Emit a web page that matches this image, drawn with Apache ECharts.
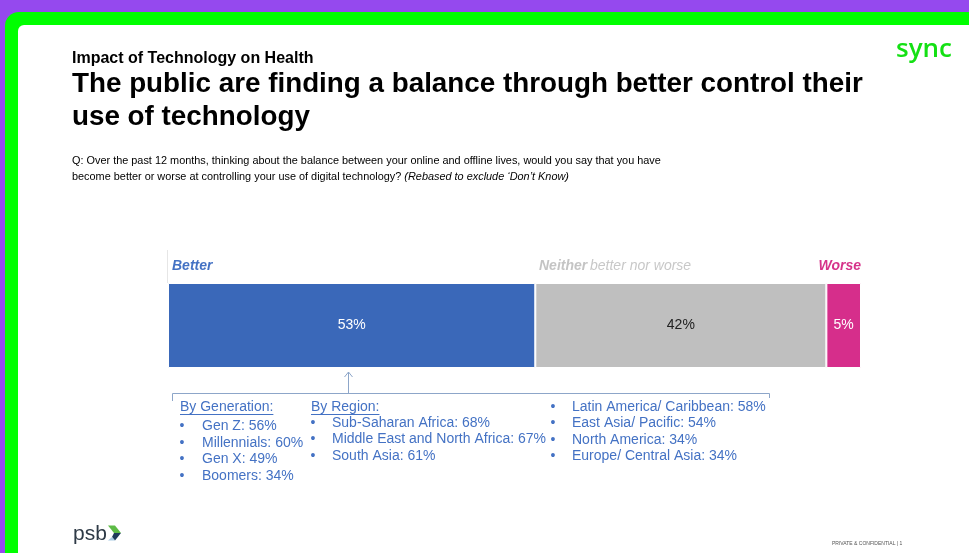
<!DOCTYPE html>
<html>
<head>
<meta charset="utf-8">
<script src="https://cdn.jsdelivr.net/npm/echarts@6/dist/echarts.min.js"></script>
<style>
  html, body { margin: 0; padding: 0; background: #9549EE; }
  #main { width: 969px; height: 553px; }
</style>
</head>
<body>
<div id="main"></div>
<script>
// Survey result: share of the public that became better / neither / worse at controlling tech use
const categories = ['Global public'];
const seriesNames = ['Better', 'Neither', 'Worse'];
const betterValues = [53];
const neitherValues = [42];
const worseValues = [5];

// "Better" share broken down by generation and by region
const generationNames = ['Gen Z', 'Millennials', 'Gen X', 'Boomers'];
const generationValues = [56, 60, 49, 34];
const regionNames = ['Sub-Saharan Africa', 'Middle East and North Africa', 'South Asia',
  'Latin America/ Caribbean', 'East Asia/ Pacific', 'North America', 'Europe/ Central Asia'];
const regionValues = [68, 67, 61, 58, 54, 34, 34];

const FONT = '"Liberation Sans", Arial, sans-serif';
const BLUE_TEXT = '#4472C4';

const measureCtx = document.createElement('canvas').getContext('2d');
function textWidth(font, s) { measureCtx.font = font; return measureCtx.measureText(s).width; }

function label(x, y, text, font, fill, align, extra) {
  return Object.assign({
    type: 'text', x: x, y: y, z: 20,
    style: { x: 0, y: 0, text: text, font: font, fill: fill,
             textAlign: align || 'left', textVerticalAlign: 'middle' }
  }, extra || {});
}

const elements = [];

// frame: green rounded border on purple, white page inside
elements.push({ type: 'rect', z: 0, shape: { x: 5, y: 12, width: 1000, height: 600, r: 14 }, style: { fill: '#00FF00' } });
elements.push({ type: 'rect', z: 1, shape: { x: 18, y: 25, width: 1000, height: 600, r: 6 }, style: { fill: '#FFFFFF' } });

// headings
elements.push(label(72, 59, 'Impact of Technology on Health', 'bold 16px ' + FONT, '#000'));
elements.push(label(72, 84, 'The public are finding a balance through better control their', 'bold 27.8px ' + FONT, '#000'));
elements.push(label(72, 117, 'use of technology', 'bold 27.8px ' + FONT, '#000'));

// question text
const qFont = '11px ' + FONT;
const qItalic = 'italic 11px ' + FONT;
const qScale = 0.99;
const qLine2 = 'become better or worse at controlling your use of digital technology? ';
elements.push(label(72, 161, 'Q: Over the past 12 months, thinking about the balance between your online and offline lives, would you say that you have', qFont, '#000', 'left', { scaleX: qScale }));
elements.push(label(72, 177, qLine2, qFont, '#000', 'left', { scaleX: qScale }));
elements.push(label(72 + textWidth(qFont, qLine2) * qScale, 177, '(Rebased to exclude \u2018Don\u2019t Know)', qItalic, '#000', 'left', { scaleX: qScale }));

// brand marks
elements.push(label(952, 50, 'sync', '600 26px "Open Sans", ' + FONT, '#14E014', 'right'));
elements.push(label(73, 534, 'psb', '21px ' + FONT, '#2E3A46'));
elements.push({ type: 'polygon', z: 20, shape: { points: [[108, 525.5], [115, 525.5], [121, 533], [114, 533]] }, style: { fill: '#5DBB46' } });
elements.push({ type: 'polygon', z: 20, shape: { points: [[114, 533], [121, 533], [115, 540.5], [112, 537]] }, style: { fill: '#1F3A5A' } });
elements.push({ type: 'polygon', z: 20, shape: { points: [[108, 540.5], [112, 537], [115, 540.5]] }, style: { fill: '#A9CBE3' } });
elements.push(label(832, 544, 'PRIVATE & CONFIDENTIAL | 1', '5px ' + FONT, '#555'));

// segment captions above the bar
elements.push({ type: 'line', z: 5, shape: { x1: 167.5, y1: 250, x2: 167.5, y2: 283 }, style: { stroke: '#E6E6E6', lineWidth: 1 } });
elements.push(label(172, 266, seriesNames[0], 'italic bold 14px ' + FONT, '#4472C4'));
elements.push(label(539, 266, seriesNames[1], 'italic bold 14px ' + FONT, '#C4C4C4'));
elements.push(label(590, 266, 'better nor worse', 'italic 14px ' + FONT, '#C8C8C8'));
elements.push(label(861, 266, seriesNames[2], 'italic bold 14px ' + FONT, '#D6338A', 'right'));

// pointer from the "Better" segment down to the breakdown
const pointer = '#8DA6C9';
elements.push({ type: 'line', z: 20, shape: { x1: 348.5, y1: 393, x2: 348.5, y2: 372 }, style: { stroke: pointer, lineWidth: 1 } });
elements.push({ type: 'polyline', z: 20, shape: { points: [[344.5, 377], [348.5, 372], [352.5, 377]] }, style: { stroke: pointer, lineWidth: 1, fill: null } });
elements.push({ type: 'polyline', z: 20, shape: { points: [[172.5, 401], [172.5, 393.5], [769.5, 393.5], [769.5, 398]] }, style: { stroke: pointer, lineWidth: 1, fill: null } });

// breakdown lists
const listFont = '14px ' + FONT;
function heading(x, y, text) {
  elements.push(label(x, y, text, listFont, BLUE_TEXT));
  const w = textWidth(listFont, text);
  elements.push({ type: 'line', z: 20, shape: { x1: x, y1: y + 7.5, x2: x + w, y2: y + 7.5 }, style: { stroke: BLUE_TEXT, lineWidth: 1 } });
}
function bullet(bx, tx, y, text) {
  elements.push(label(bx, y, '\u2022', listFont, BLUE_TEXT, 'center'));
  elements.push(label(tx, y, text, listFont, BLUE_TEXT));
}
heading(180, 407, 'By Generation:');
generationNames.forEach((n, i) => bullet(182, 202, 426 + i * 16.8, n + ': ' + generationValues[i] + '%'));
heading(311, 407, 'By Region:');
regionNames.forEach((n, i) => {
  const t = n + ': ' + regionValues[i] + '%';
  if (i < 3) bullet(313, 332, 423 + i * 16.5, t);
  else bullet(553, 572, 407 + (i - 3) * 16.5, t);
});

const chart = echarts.init(document.getElementById('main'), null, { renderer: 'canvas' });

const barLabel = (color) => ({
  show: true, position: 'inside', formatter: (p) => p.value + '%',
  color: color, fontSize: 14, fontFamily: FONT
});
const barStyle = (color) => ({ color: color, borderColor: '#FFFFFF', borderWidth: 1 });

chart.setOption({
  backgroundColor: 'transparent',
  animation: false,
  grid: { left: 168, right: 108, top: 283, height: 85, containLabel: false },
  xAxis: { type: 'value', min: 0, max: 100, show: false },
  yAxis: {
    type: 'category', data: categories,
    axisLine: { show: false }, axisTick: { show: false }, splitLine: { show: false },
    axisLabel: { margin: 12, color: '#000', fontWeight: 'bold', fontSize: 14, fontFamily: FONT }
  },
  graphic: { elements: elements },
  series: [
    { name: seriesNames[0], type: 'bar', stack: 'total', barWidth: 85, z: 10, data: betterValues,
      itemStyle: barStyle('#3A68B9'), label: barLabel('#FFFFFF') },
    { name: seriesNames[1], type: 'bar', stack: 'total', barWidth: 85, z: 10, data: neitherValues,
      itemStyle: barStyle('#BFBFBF'), label: barLabel('#222222') },
    { name: seriesNames[2], type: 'bar', stack: 'total', barWidth: 85, z: 10, data: worseValues,
      itemStyle: barStyle('#D62E8B'), label: barLabel('#FFFFFF') }
  ]
});
</script>
</body>
</html>
